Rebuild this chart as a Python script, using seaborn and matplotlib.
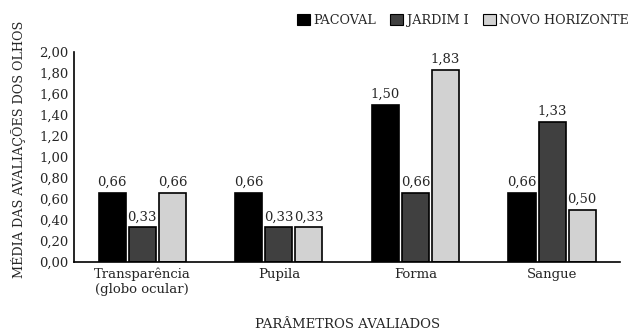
import matplotlib
matplotlib.use("Agg")
import matplotlib.pyplot as plt
import seaborn as sns
import pandas as pd
from matplotlib.patches import Patch

categories = ["Transparência\n(globo ocular)", "Pupila", "Forma", "Sangue"]
series_names = ["PACOVAL", "JARDIM I", "NOVO HORIZONTE"]
pacoval = [0.66, 0.66, 1.50, 0.66]
jardim = [0.33, 0.33, 0.66, 1.33]
novo_horizonte = [0.66, 0.33, 1.83, 0.50]
y_ticks = [0.0, 0.2, 0.4, 0.6, 0.8, 1.0, 1.2, 1.4, 1.6, 1.8, 2.0]
colors = ["#000000", "#404040", "#d2d2d2"]

rows = []
for name, vals in zip(series_names, [pacoval, jardim, novo_horizonte]):
    for cat, v in zip(categories, vals):
        rows.append({"cat": cat, "serie": name, "valor": v})
df = pd.DataFrame(rows)

sns.set_style("white")
plt.rcParams["font.family"] = ["DejaVu Serif"]
plt.rcParams["font.size"] = 9.5

fig, ax = plt.subplots(figsize=(6.33, 3.31), dpi=100)
fig.subplots_adjust(left=0.117, right=0.98, top=0.843, bottom=0.208)

sns.barplot(data=df, x="cat", y="valor", hue="serie", palette=colors,
            order=categories, hue_order=series_names, width=0.66, gap=0.1,
            edgecolor="black", linewidth=1.2, ax=ax, legend=False)

for cont in ax.containers:
    ax.bar_label(cont, labels=[f"{v:.2f}".replace(".", ",") for v in cont.datavalues],
                 padding=3, fontsize=9.5)

ax.set_ylim(0, 2.0)
ax.set_yticks(y_ticks)
ax.set_yticklabels([f"{t:.2f}".replace(".", ",") for t in y_ticks])
ax.tick_params(axis="both", length=0, pad=4)
ax.set_xlabel("PARÂMETROS AVALIADOS", labelpad=16)
ax.set_ylabel("MÉDIA DAS AVALIAÇÕES DOS OLHOS", fontsize=9.2)
ax.yaxis.set_label_coords(-0.088, 0.535)
for s in ["top", "right"]:
    ax.spines[s].set_visible(False)
for s in ["left", "bottom"]:
    ax.spines[s].set_color("black")
    ax.spines[s].set_linewidth(1.2)

handles = [Patch(facecolor=c, edgecolor="black", linewidth=0.8) for c in colors]
fig.legend(handles, series_names, loc="upper right", bbox_to_anchor=(1.012, 0.993),
           ncol=3, frameon=False, handlelength=1.0, handleheight=1.0,
           handletextpad=0.3, columnspacing=1.1, fontsize=9.2)

fig.savefig("out.png", dpi=100)
